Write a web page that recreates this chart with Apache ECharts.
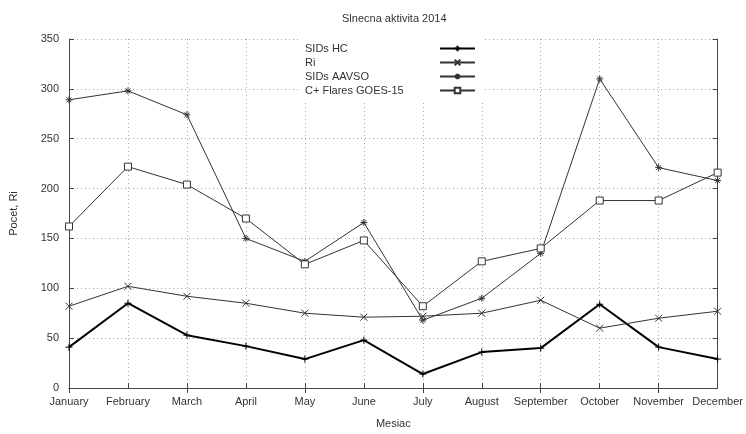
<!DOCTYPE html>
<html>
<head>
<meta charset="utf-8">
<script src="https://cdn.jsdelivr.net/npm/echarts@6/dist/echarts.min.js"></script>
<style>
  html, body { margin: 0; padding: 0; background: #fff; }
  #chart { width: 746px; height: 434px; }
</style>
</head>
<body>
<div id="chart"></div>
<script>
// mesiace a hodnoty odcitane z grafu
var months = ["January", "February", "March", "April", "May", "June", "July",
  "August", "September", "October", "November", "December"];
var sidsHC = [41, 85, 53, 42, 29, 48, 14, 36, 40, 84, 41, 29];
var ri = [82, 102, 92, 85, 75, 71, 72, 75, 88, 60, 70, 77];
var sidsAAVSO = [289, 298, 274, 150, 127, 166, 68, 90, 135, 310, 221, 208];
var flares = [162, 222, 204, 170, 124, 148, 82, 127, 140, 188, 188, 216];
var yTicks = [0, 50, 100, 150, 200, 250, 300, 350];

(function () {
    var myChart = echarts.init(document.getElementById("chart"));
    var font = "Liberation Sans";
    var axisColor = "#444";
    var gridLine = { show: true, lineStyle: { color: "#aaa", type: [1, 3], width: 1 } };

    // znacky ako v gnuplote
    var plus = "path://M0,5L10,5M5,0L5,10";
    var cross = "path://M0,0L10,10M10,0L0,10";
    var star = "path://M0,5L10,5M5,0L5,10M1.5,1.5L8.5,8.5M8.5,1.5L1.5,8.5";

    function mkSeries(name, data, symbol, lw, color, fill) {
        return {
            name: name,
            type: "line",
            data: data,
            symbol: symbol,
            symbolSize: 7,
            showSymbol: true,
            lineStyle: { color: color, width: lw },
            itemStyle: { color: fill, borderColor: color, borderWidth: 1 },
            emphasis: { disabled: true },
            animation: false,
            z: 3
        };
    }

    var option = {
        backgroundColor: "#fff",
        title: {
            text: "Slnecna aktivita 2014",
            left: 337,
            top: 8,
            textStyle: { fontFamily: font, fontSize: 11, fontWeight: "normal", color: "#333" }
        },
        legend: {
            orient: "vertical",
            left: 300,
            top: 39,
            padding: [4, 8, 5, 5],
            align: "right",
            itemWidth: 35,
            itemHeight: 7,
            itemGap: 3,
            backgroundColor: "#fff",
            formatter: function (name) { return "{t|" + name + "}"; },
            textStyle: {
                fontFamily: font, fontSize: 11, color: "#333",
                rich: { t: { width: 130, align: "left", lineHeight: 12, fontFamily: font, fontSize: 11, color: "#333" } }
            },
            data: ["SIDs HC", "Ri", "SIDs AAVSO", "C+ Flares GOES-15"],
            z: 10
        },
        grid: { left: 69, right: 26, top: 39, bottom: 37 },
        xAxis: [
            {
                type: "category",
                data: months,
                boundaryGap: false,
                name: "Mesiac",
                nameLocation: "middle",
                nameGap: 30,
                nameTextStyle: { fontFamily: font, fontSize: 11, color: "#333" },
                axisLine: { lineStyle: { color: axisColor } },
                axisTick: { inside: true, length: 5, alignWithLabel: true, lineStyle: { color: axisColor } },
                axisLabel: { fontFamily: font, fontSize: 11, color: "#333", margin: 8, interval: 0 },
                splitLine: gridLine
            },
            {
                type: "category",
                data: months,
                boundaryGap: false,
                position: "top",
                axisLine: { lineStyle: { color: axisColor } },
                axisTick: { inside: true, length: 5, lineStyle: { color: axisColor } },
                axisLabel: { show: false },
                splitLine: { show: false }
            }
        ],
        yAxis: [
            {
                type: "value",
                min: yTicks[0],
                max: yTicks[yTicks.length - 1],
                interval: 50,
                name: "Pocet, Ri",
                nameLocation: "middle",
                nameGap: 50,
                nameTextStyle: { fontFamily: font, fontSize: 11, color: "#333" },
                axisLine: { show: true, lineStyle: { color: axisColor } },
                axisTick: { show: true, inside: true, length: 5, lineStyle: { color: axisColor } },
                axisLabel: { fontFamily: font, fontSize: 11, color: "#333", margin: 10 },
                splitLine: gridLine
            },
            {
                type: "value",
                min: yTicks[0],
                max: yTicks[yTicks.length - 1],
                interval: 50,
                position: "right",
                axisLine: { show: true, lineStyle: { color: axisColor } },
                axisTick: { show: true, inside: true, length: 5, lineStyle: { color: axisColor } },
                axisLabel: { show: false },
                splitLine: { show: false }
            }
        ],
        series: [
            mkSeries("SIDs HC", sidsHC, plus, 2, "#000", "transparent"),
            mkSeries("Ri", ri, cross, 1, "#333", "transparent"),
            mkSeries("SIDs AAVSO", sidsAAVSO, star, 1, "#333", "transparent"),
            mkSeries("C+ Flares GOES-15", flares, "rect", 1, "#333", "#fff")
        ]
    };
    myChart.setOption(option);
})();
</script>
</body>
</html>
